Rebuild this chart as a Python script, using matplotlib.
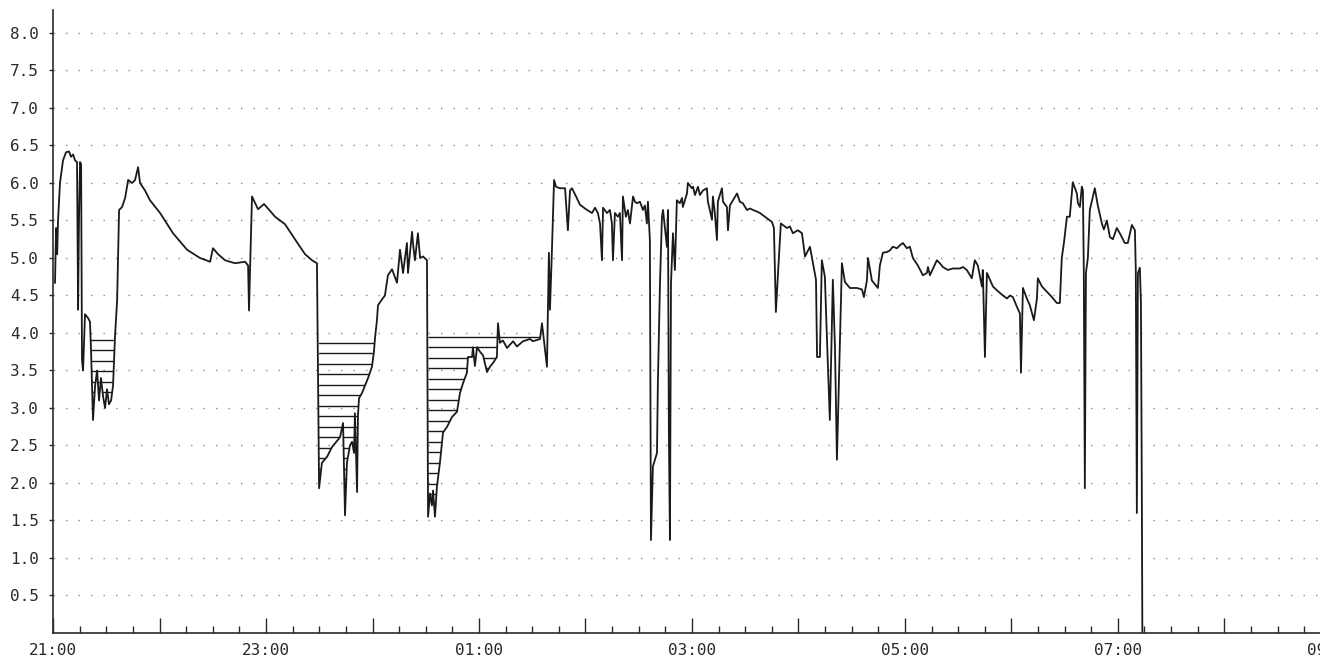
import numpy as np
import matplotlib.pyplot as plt
from matplotlib.path import Path

# tempo em minutos desde 21:00 e valor registrado
t_min = [
    1.1, 1.7, 2.3, 2.8, 3.9, 5.6, 7.3, 9.0, 10.1, 11.3, 12.4, 13.5, 14.1, 14.6, 15.2, 15.8,
    16.3, 16.9, 18.0, 19.7, 20.8, 21.4, 22.5, 23.7, 24.8, 25.9, 27.0, 28.2, 29.3, 30.4, 31.5,
    32.7, 33.8, 34.9, 36.1, 37.2, 38.9, 40.6, 42.3, 44.5, 46.2, 47.9, 49.0, 51.8, 54.6, 60.3,
    67.6, 75.5, 82.8, 88.5, 90.1, 93.0, 96.9, 102.5, 108.2, 109.9, 110.4, 112.1, 115.5, 118.9,
    125.1, 130.7, 136.3, 142.0, 145.9, 148.7, 149.9, 151.5, 154.4, 157.2, 161.7, 163.4, 164.5,
    165.6, 167.3, 168.5, 169.6, 170.1, 171.3, 171.8, 172.4, 174.1, 175.8, 177.5, 179.7, 180.8,
    181.4, 182.5, 183.1, 185.4, 187.0, 188.7, 191.0, 193.8, 195.5, 197.2, 199.4, 200.0, 202.3,
    202.8, 203.9, 205.6, 206.8, 208.5, 210.7, 211.3, 212.4, 213.5, 214.1, 215.2, 216.3, 218.0,
    219.7, 222.0, 224.8, 227.6, 229.3, 231.0, 233.2, 233.8, 236.1, 236.6, 237.7, 238.9, 240.6,
    242.3, 244.5, 246.2, 247.9, 250.1, 250.7, 251.8, 253.5, 255.8, 259.2, 261.4, 264.8, 268.7,
    270.4, 274.4, 275.5, 276.6, 278.3, 278.9, 279.4, 280.0, 281.1, 282.3, 283.4, 285.6, 288.5,
    290.1, 291.3, 292.4, 294.1, 296.9, 300.3, 303.7, 305.4, 307.0, 308.2, 309.3, 309.9, 312.1,
    313.8, 314.9, 315.5, 316.6, 318.3, 319.4, 320.6, 321.1, 322.8, 323.9, 325.1, 326.8, 327.9,
    329.0, 330.7, 332.4, 333.5, 334.6, 335.2, 336.3, 336.9, 338.0, 340.3, 340.8, 342.0, 343.1,
    343.7, 344.8, 345.9, 346.5, 347.0, 347.6, 348.2, 349.3, 350.4, 351.5, 353.2, 354.4, 354.9,
    357.2, 357.7, 360.0, 360.6, 361.7, 363.4, 364.5, 366.2, 368.4, 369.0, 371.3, 371.8, 372.9,
    374.1, 374.6, 376.9, 377.5, 379.7, 380.3, 381.4, 383.1, 385.4, 387.0, 388.7, 391.0, 392.7,
    394.4, 396.6, 398.3, 402.3, 405.1, 406.2, 407.3, 408.5, 410.1, 413.5, 415.2, 416.9, 419.7,
    422.0, 423.7, 426.5, 428.2, 429.9, 430.5, 432.1, 433.2, 434.9, 436.1, 437.7, 439.4, 440.6,
    441.7, 443.4, 444.5, 446.2, 449.0, 453.0, 455.8, 456.9, 458.6, 459.2, 461.4, 463.1, 464.8,
    465.9, 467.6, 469.9, 471.5, 473.2, 475.5, 477.2, 478.9, 481.1, 482.8, 484.5, 487.3, 490.1,
    492.4, 493.0, 494.1, 498.0, 499.7, 501.4, 504.2, 507.0, 511.0, 512.7, 514.9, 517.7, 519.4,
    521.1, 523.4, 523.9, 525.1, 526.2, 526.8, 529.6, 531.8, 535.2, 537.5, 539.2, 540.8, 543.1,
    544.8, 545.4, 546.5, 548.7, 550.4, 552.7, 554.4, 554.9, 557.2, 560.0, 562.8, 565.6, 567.3,
    568.4, 569.6, 571.3, 572.9, 574.6, 576.9, 577.5, 578.6, 579.7, 580.3, 580.8, 581.4, 582.0,
    583.1, 584.2, 585.9, 587.0, 588.7, 591.0, 592.1, 593.8, 595.5, 597.2, 599.4, 601.1, 603.9,
    605.6, 607.9, 609.6, 610.1, 610.7, 611.3, 612.4, 613.0, 613.5, 613.8,
]
nivel = [
    4.67, 5.40, 5.05, 5.50, 6.00, 6.30, 6.41, 6.42, 6.35, 6.38, 6.30, 6.28, 4.31, 5.50, 6.28, 6.25,
    3.64, 3.50, 4.25, 4.20, 4.15, 3.77, 2.84, 3.30, 3.50, 3.10, 3.40, 3.15, 3.00, 3.25, 3.05,
    3.10, 3.30, 3.95, 4.44, 5.64, 5.68, 5.80, 6.04, 6.00, 6.04, 6.21, 6.00, 5.90, 5.77, 5.60,
    5.33, 5.11, 5.00, 4.95, 5.13, 5.05, 4.97, 4.93, 4.95, 4.90, 4.30, 5.82, 5.65, 5.72,
    5.55, 5.45, 5.25, 5.05, 4.97, 4.93, 1.93, 2.27, 2.35, 2.48, 2.61, 2.80, 1.57,
    2.27, 2.50, 2.55, 2.40, 2.93, 1.88, 2.90, 3.13, 3.20, 3.30, 3.40, 3.55, 3.75,
    3.93, 4.17, 4.37, 4.45, 4.50, 4.77, 4.85, 4.67, 5.11, 4.80, 5.20, 4.80, 5.35,
    5.20, 4.97, 5.33, 5.00, 5.02, 4.97, 1.55, 1.86, 1.70, 1.90, 1.55, 1.95, 2.27,
    2.67, 2.75, 2.88, 2.95, 3.20, 3.33, 3.47, 3.68, 3.68, 3.81, 3.56, 3.81, 3.75,
    3.70, 3.48, 3.55, 3.60, 3.68, 4.13, 3.87, 3.90, 3.80, 3.89, 3.82, 3.89, 3.92,
    3.89, 3.92, 4.13, 3.90, 3.55, 4.35, 5.07, 4.31, 5.10, 6.04, 5.95, 5.93, 5.93,
    5.37, 5.90, 5.93, 5.85, 5.71, 5.65, 5.60, 5.67, 5.60, 5.46, 4.97, 5.67, 5.60,
    5.64, 5.46, 4.97, 5.60, 5.55, 5.60, 4.97, 5.82, 5.55, 5.64, 5.46, 5.82, 5.75,
    5.73, 5.75, 5.64, 5.70, 5.46, 5.75, 5.24, 1.24, 2.22, 2.40, 3.33, 4.67, 5.55,
    5.64, 5.40, 5.15, 5.64, 2.67, 1.24, 4.67, 5.33, 4.84, 5.77, 5.73, 5.80, 5.68,
    5.86, 6.00, 5.93, 5.95, 5.84, 5.95, 5.84, 5.90, 5.93, 5.75, 5.51, 5.82, 5.60,
    5.24, 5.75, 5.93, 5.75, 5.68, 5.37, 5.70, 5.77, 5.86, 5.75, 5.73, 5.64, 5.66,
    5.64, 5.62, 5.60, 5.53, 5.48, 5.40, 4.28, 4.80, 5.46, 5.40, 5.42, 5.33, 5.37,
    5.33, 5.02, 5.15, 4.93, 4.71, 3.68, 3.68, 4.97, 4.75, 3.91, 2.84, 4.71, 3.80,
    2.31, 3.90, 4.93, 4.68, 4.60, 4.60, 4.58, 4.48, 4.70, 5.00, 4.70, 4.65, 4.60,
    4.90, 5.07, 5.08, 5.10, 5.15, 5.13, 5.17, 5.20, 5.13, 5.15, 5.00, 4.90, 4.77,
    4.80, 4.88, 4.77, 4.97, 4.93, 4.88, 4.84, 4.86, 4.86, 4.88, 4.84, 4.73, 4.97,
    4.90, 4.62, 4.84, 3.68, 4.80, 4.77, 4.62, 4.57, 4.50, 4.46, 4.50, 4.48, 4.35,
    4.26, 3.47, 4.60, 4.46, 4.37, 4.17, 4.46, 4.73, 4.62, 4.55, 4.48, 4.40, 4.40,
    5.00, 5.20, 5.55, 5.55, 6.01, 5.86, 5.73, 5.68, 5.95, 5.90, 4.84, 1.93, 4.80,
    5.00, 5.64, 5.82, 5.93, 5.70, 5.46, 5.38, 5.50, 5.28, 5.25, 5.40, 5.33, 5.20,
    5.20, 5.44, 5.37, 4.84, 1.60, 4.80, 4.87, 4.40, 1.90, 0.00,
]

# faixas hachuradas: inicio, fim (minutos) e nivel do limiar de cada uma
faixas_inicio = [20.5, 149.5, 211.0]
faixas_fim = [37.0, 184.0, 277.5]
limiares = [3.92, 3.88, 3.96]
passo_hachura = 0.14

y_ticks = [0.5, 1.0, 1.5, 2.0, 2.5, 3.0, 3.5, 4.0, 4.5, 5.0, 5.5, 6.0, 6.5, 7.0, 7.5, 8.0]
x_labels = ['21:00', '23:00', '01:00', '03:00', '05:00', '07:00', '09:00']

plt.rcParams['font.family'] = 'DejaVu Sans Mono'
plt.rcParams['font.size'] = 11.5

t = np.array(t_min)
v = np.array(nivel)

fig = plt.figure(figsize=(13.2, 6.68), dpi=100)
ax = fig.add_axes([0.0402, 0.0524, 0.968, 0.9319])

ax.plot(t, v, color='#1a1a1a', lw=1.3)

# areas abaixo do limiar, hachuradas com linhas horizontais
for a, b, lim in zip(faixas_inicio, faixas_fim, limiares):
    m = (t >= a) & (t <= b)
    poly = ax.fill_between(t[m], v[m], lim, where=v[m] < lim, interpolate=True,
                           facecolor='none', edgecolor='none')
    caminho = Path.make_compound_path(*poly.get_paths())
    niveis = np.arange(lim - 0.01, 0, -passo_hachura)
    linhas = ax.hlines(niveis, a, b, colors='#1a1a1a', lw=1.0)
    linhas.set_clip_path(caminho, ax.transData)

ax.set_xlim(0, 720)
ax.set_ylim(0, 8.3)

ax.set_yticks(y_ticks)
ax.set_yticklabels([f'{y:.1f}' for y in y_ticks])
ax.yaxis.grid(True, color='#8c8c8c', linestyle=(0, (1, 8)), lw=1.0)

major = np.arange(0, 721, 60)
ax.set_xticks(major)
rotulos = []
for i in range(len(major)):
    rotulos.append(x_labels[i // 2] if i % 2 == 0 else '')
ax.set_xticklabels(rotulos)
ax.set_xticks(np.arange(0, 721, 15), minor=True)

ax.tick_params(axis='x', which='major', direction='in', length=11, width=1, pad=7, colors='#2a2a2a')
ax.tick_params(axis='x', which='minor', direction='in', length=5, width=1, colors='#2a2a2a')
ax.tick_params(axis='y', direction='out', length=3, width=1, pad=7, colors='#2a2a2a')

for lado in ['top', 'right']:
    ax.spines[lado].set_visible(False)
for lado in ['left', 'bottom']:
    ax.spines[lado].set_color('#2a2a2a')
    ax.spines[lado].set_linewidth(1.2)

fig.savefig('out.png', dpi=100)
